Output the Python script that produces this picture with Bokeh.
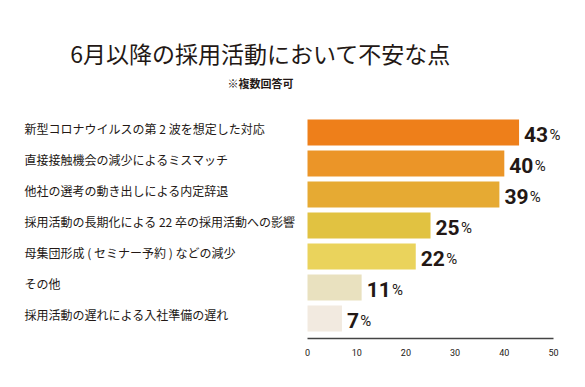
from bokeh.plotting import figure
from bokeh.models import Range1d, FixedTicker, ColumnDataSource, Label
from bokeh.core.properties import value
from bokeh.embed import file_html
from bokeh.resources import INLINE

# ---- data ----
categories = [
    "新型コロナウイルスの第 2 波を想定した対応",
    "直接接触機会の減少によるミスマッチ",
    "他社の選考の動き出しによる内定辞退",
    "採用活動の長期化による 22 卒の採用活動への影響",
    "母集団形成 ( セミナー予約 ) などの減少",
    "その他",
    "採用活動の遅れによる入社準備の遅れ",
]
values = [43, 40, 39, 25, 22, 11, 7]
colors = ["#EE7F1A", "#EB9528", "#E6AA33", "#E1C241", "#EAD35C", "#E9E1BF", "#F2EAE0"]
x_ticks = [0, 10, 20, 30, 40, 50]
title_text = "6月以降の採用活動において不安な点"
subtitle_text = "※複数回答可"

CJK = "Noto Sans CJK JP"
DARK = "#231815"

rows = list(range(len(categories)))
num_text = [str(v) for v in values]
pct_offset = [5 + 12.2 * len(t) + 1 for t in num_text]

src = ColumnDataSource(dict(
    y=rows, v=values, c=colors, cat=categories,
    num=num_text, pct=["%"] * len(values), pofs=pct_offset,
    lx=[-57.5] * len(values),
))

p = figure(width=569, height=371, output_backend="svg", toolbar_location=None,
           x_range=Range1d(-62.40, 53.25), y_range=Range1d(6.645, -4.258),
           x_axis_location="below", y_axis_location=None,
           min_border_left=0, min_border_right=0, min_border_top=0, min_border_bottom=33)
p.outline_line_color = None
p.xgrid.visible = False
p.ygrid.visible = False
p.background_fill_color = "white"
p.border_fill_color = "white"

p.hbar(y="y", left=0, right="v", height=0.84, fill_color="c", line_color=None, source=src)

# category labels (left aligned)
p.text(x="lx", y="y", text="cat", source=src, text_font=value(CJK), text_font_size="12px",
       text_color=DARK, text_align="left", text_baseline="middle", y_offset=-4)

# value numbers
p.text(x="v", y="y", text="num", source=src, text_font=value("Roboto"), text_font_style="bold",
       text_font_size="21px", text_color=DARK, text_align="left", text_baseline="alphabetic",
       x_offset=5, y_offset=2)
p.text(x="v", y="y", text="pct", source=src, text_font=value("Roboto"),
       text_font_size="15px", text_color=DARK, text_align="left", text_baseline="alphabetic",
       x_offset="pofs", y_offset=2)

# title & subtitle
p.add_layout(Label(x=-9.55, y=-2.58, text=title_text, text_font=CJK, text_font_size="23px",
                   text_color=DARK, text_align="center", text_baseline="middle"))
p.add_layout(Label(x=-9.55, y=-1.61, text=subtitle_text, text_font=CJK, text_font_size="11px",
                   text_font_style="bold", text_color=DARK, text_align="center",
                   text_baseline="middle"))

ax = p.xaxis[0]
ax.ticker = FixedTicker(ticks=x_ticks)
ax.bounds = (0, 50)
ax.axis_line_color = "#444444"
ax.axis_line_width = 1.5
ax.major_tick_line_color = None
ax.minor_tick_line_color = None
ax.major_label_standoff = 4
ax.major_label_text_font = "Roboto"
ax.major_label_text_font_size = "9px"
ax.major_label_text_color = DARK

open("out.html", "w").write(file_html(p, INLINE))
